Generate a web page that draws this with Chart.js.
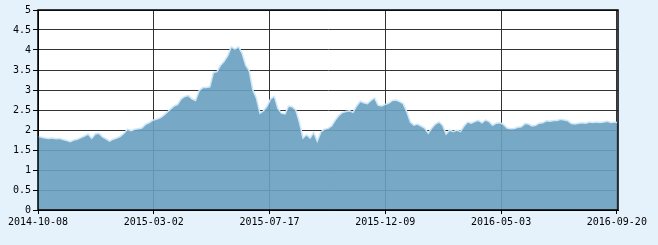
<!DOCTYPE html>
<html lang="zh">
<head>
  <meta charset="UTF-8">
  <title>走势图</title>
  <style>
    html, body { margin: 0; padding: 0; background: #e6f2fb; }
    #wrap { width: 658px; height: 245px; }
  </style>
</head>
<body>
  <div id="wrap"><canvas id="chart" width="658" height="245"></canvas></div>

  <script src="https://cdn.jsdelivr.net/npm/chart.js"></script>
  <script>
    // trading-day index of each sample (one every 3 days)
    const dayStep = 3;
    const values = [
      1.84, 1.82, 1.80, 1.79, 1.80, 1.78, 1.79, 1.76, 1.74, 1.71,
      1.75, 1.77, 1.81, 1.85, 1.90, 1.79, 1.90, 1.92, 1.83, 1.78,
      1.72, 1.77, 1.80, 1.84, 1.92, 2.02, 1.98, 2.02, 2.03, 2.05,
      2.14, 2.18, 2.24, 2.27, 2.30, 2.36, 2.44, 2.52, 2.60, 2.64,
      2.78, 2.84, 2.86, 2.78, 2.74, 2.98, 3.06, 3.06, 3.08, 3.44,
      3.46, 3.62, 3.72, 3.86, 4.08, 4.02, 4.08, 3.92, 3.62, 3.48,
      3.00, 2.80, 2.42, 2.48, 2.60, 2.78, 2.84, 2.54, 2.42, 2.40,
      2.60, 2.58, 2.50, 2.20, 1.80, 1.88, 1.80, 1.94, 1.72, 1.95,
      2.02, 2.04, 2.10, 2.24, 2.36, 2.44, 2.46, 2.48, 2.44, 2.60,
      2.72, 2.68, 2.66, 2.74, 2.80, 2.62, 2.60, 2.64, 2.67, 2.74,
      2.75, 2.71, 2.66, 2.46, 2.20, 2.12, 2.15, 2.10, 2.05, 1.92,
      2.05, 2.15, 2.20, 2.12, 1.90, 2.00, 1.96, 2.00, 1.96, 2.10,
      2.20, 2.17, 2.21, 2.24, 2.18, 2.25, 2.21, 2.12, 2.17, 2.18,
      2.14, 2.05, 2.03, 2.04, 2.07, 2.08, 2.16, 2.15, 2.10, 2.12,
      2.17, 2.18, 2.23, 2.22, 2.24, 2.24, 2.27, 2.25, 2.23, 2.16,
      2.15, 2.17, 2.18, 2.17, 2.20, 2.19, 2.20, 2.19, 2.20, 2.22,
      2.19, 2.20, 2.18
    ];
    const tickDays = [0, 97, 194, 291, 388, 485];
    const tickLabels = ['2014-10-08', '2015-03-02', '2015-07-17', '2015-12-09', '2016-05-03', '2016-09-20'];
    const lastDay = 486;

    const points = values.map((v, i) => ({ x: i * dayStep, y: v }));

    const plotBg = {
      id: 'plotBg',
      beforeDraw(chart) {
        const c = chart.ctx, a = chart.chartArea;
        c.save();
        c.fillStyle = '#e6f2fb';
        c.fillRect(0, 0, chart.width, chart.height);
        c.fillStyle = '#ffffff';
        c.fillRect(a.left, a.top, a.right - a.left, a.bottom - a.top);
        c.restore();
      },
      afterDatasetsDraw(chart) {
        const c = chart.ctx, a = chart.chartArea;
        c.save();
        c.strokeStyle = '#000';
        c.lineWidth = 1.5;
        c.strokeRect(a.left, a.top, a.right - a.left, a.bottom - a.top);
        c.restore();
      }
    };

    const font = { family: '"DejaVu Sans Mono", monospace', size: 10 };

    new Chart(document.getElementById('chart'), {
      type: 'line',
      data: {
        datasets: [{
          data: points,
          fill: 'origin',
          backgroundColor: 'rgba(105, 161, 193, 0.91)',
          borderColor: 'rgba(205, 231, 247, 1)',
          borderWidth: 1.5,
          pointRadius: 0,
          tension: 0
        }]
      },
      options: {
        responsive: false,
        animation: false,
        layout: { padding: { top: 10, right: 40, left: 0, bottom: 0 } },
        plugins: { legend: { display: false }, tooltip: { enabled: false } },
        scales: {
          x: {
            type: 'linear',
            min: 0,
            max: lastDay,
            afterBuildTicks: s => { s.ticks = tickDays.map(v => ({ value: v })); },
            afterFit: s => { s.height = 35; },
            ticks: {
              autoSkip: false,
              maxRotation: 0,
              color: '#000',
              font: font,
              padding: 2,
              callback: v => tickLabels[tickDays.indexOf(v)]
            },
            grid: { color: '#333', lineWidth: 1, tickColor: '#000', tickLength: 4 },
            border: { color: '#000', width: 1 }
          },
          y: {
            min: 0,
            max: 5,
            afterFit: s => { s.width = 38; },
            ticks: { stepSize: 0.5, color: '#000', font: font, padding: 2, callback: v => String(v) },
            grid: { color: '#333', lineWidth: 1, tickColor: '#000', tickLength: 5 },
            border: { color: '#000', width: 1 }
          }
        }
      },
      plugins: [plotBg]
    });
  </script>
</body>
</html>
